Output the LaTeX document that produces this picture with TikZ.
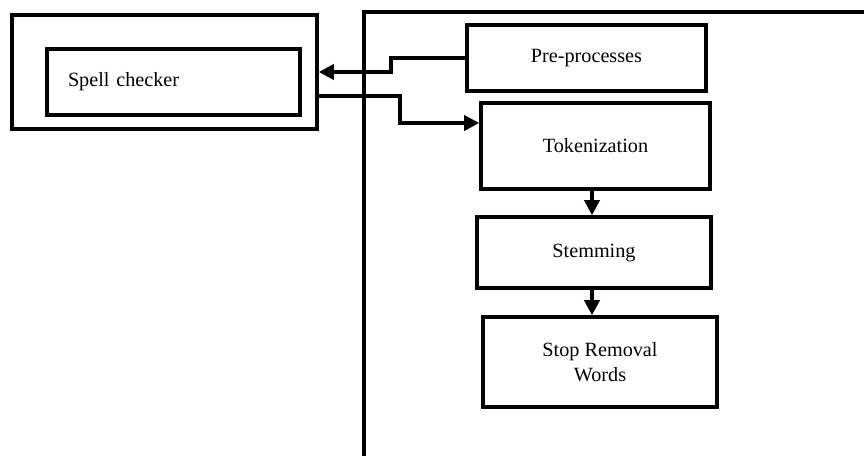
\documentclass[tikz,border=0pt]{standalone}
\usepackage{fontspec}
\setmainfont{Liberation Serif}
\usetikzlibrary{arrows.meta,positioning,calc}

\begin{document}
\begin{tikzpicture}[
  procbox/.style={draw,line width=2pt,rectangle,align=center,
    font=\fontsize{11.5}{14}\selectfont,inner sep=2pt},
  flowarrow/.style={line width=2pt,-{Triangle[length=0.3cm,width=0.3cm]}}
]
  \useasboundingbox (0,0) rectangle (17.28,-9.12);
  % right frame (cut by the page)
  \draw[line width=2pt] (7.28,-9.2) -- (7.28,-0.24) -- (17.4,-0.24);
  % spell checker block
  \node[procbox,minimum width=6.1cm,minimum height=2.28cm] (outer) at (3.29,-1.44) {};
  \node[procbox,minimum width=5.06cm,minimum height=1.32cm,text width=4.22cm,
    align=left,inner xsep=0.42cm] (spell) at (3.47,-1.64) {Spell checker};
  % processing steps
  \node[procbox,minimum width=4.78cm,minimum height=1.32cm] (pre) at (11.73,-1.16) {Pre-processes};
  \node[procbox,minimum width=4.58cm,minimum height=1.72cm] (tok) at (11.91,-2.92) {Tokenization};
  \node[procbox,minimum width=4.68cm,minimum height=1.42cm] (stem) at (11.88,-5.05) {Stemming};
  \node[procbox,minimum width=4.68cm,minimum height=1.8cm] (stop) at (12.0,-7.24) {Stop Removal\\ Words};
  % connectors
  \draw[flowarrow] (pre.west) -- ++(-1.48,0) |- (outer.east);
  \draw[flowarrow] ([yshift=-0.48cm]outer.east) -- ++(1.62,0) |- ([yshift=0.46cm]tok.west);
  \draw[flowarrow] ([xshift=-0.07cm]tok.south) -- ([xshift=-0.07cm]tok.south |- stem.north);
  \draw[flowarrow] ([xshift=-0.04cm]stem.south) -- ([xshift=-0.04cm]stem.south |- stop.north);
\end{tikzpicture}
\end{document}
